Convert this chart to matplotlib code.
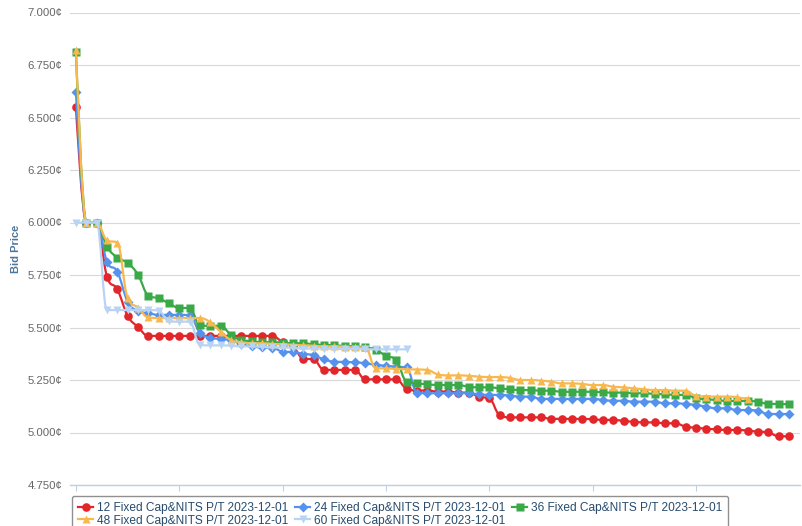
import matplotlib
matplotlib.use("Agg")
import matplotlib.pyplot as plt
from matplotlib.path import Path
from matplotlib.patches import PathPatch
from matplotlib.lines import Line2D

plt.rcParams['font.family'] = ['Liberation Sans', 'DejaVu Sans']

# ---------------- data ----------------
series_labels = [
    "12 Fixed Cap&NITS P/T 2023-12-01",
    "24 Fixed Cap&NITS P/T 2023-12-01",
    "36 Fixed Cap&NITS P/T 2023-12-01",
    "48 Fixed Cap&NITS P/T 2023-12-01",
    "60 Fixed Cap&NITS P/T 2023-12-01",
]

price_12 = [6.55, 6.00, 6.00, 5.742, 5.682, 5.556, 5.502,
            5.46, 5.46, 5.46, 5.46, 5.46, 5.46, 5.46, 5.46, 5.46, 5.46, 5.46, 5.46, 5.46,
            5.43, 5.41, 5.352, 5.348,
            5.298, 5.298, 5.298, 5.298, 5.253, 5.253, 5.253, 5.253,
            5.208, 5.200, 5.200, 5.195, 5.195, 5.190, 5.190, 5.170, 5.163,
            5.083, 5.072, 5.072, 5.072, 5.072, 5.065, 5.065, 5.065, 5.065,
            5.063, 5.060, 5.060, 5.055, 5.051, 5.048, 5.048, 5.044, 5.044,
            5.028, 5.023, 5.018, 5.015, 5.012, 5.012, 5.009, 5.004, 5.001,
            4.982, 4.982]

price_24 = [6.62, 6.00, 6.00, 5.813, 5.766, 5.623, 5.578, 5.568, 5.560, 5.560,
            5.560, 5.558, 5.474, 5.452, 5.445, 5.440, 5.420, 5.410, 5.405, 5.404,
            5.385, 5.383, 5.375, 5.368, 5.348, 5.337, 5.336, 5.334, 5.330, 5.322,
            5.318, 5.313, 5.310,
            5.190, 5.187, 5.187, 5.187, 5.187, 5.187, 5.182, 5.179, 5.179, 5.176,
            5.171, 5.171, 5.160, 5.160, 5.160, 5.160, 5.160, 5.160, 5.155, 5.151,
            5.151, 5.147, 5.147, 5.147, 5.139, 5.139, 5.136, 5.131, 5.123, 5.115,
            5.115, 5.107, 5.107, 5.104, 5.088, 5.088, 5.088]

price_36 = [6.81, 6.00, 6.00, 5.885, 5.833, 5.807, 5.752, 5.652, 5.639, 5.615,
            5.593, 5.593, 5.510, 5.508, 5.508, 5.465, 5.440, 5.435, 5.430, 5.430,
            5.428, 5.425, 5.425, 5.420, 5.417, 5.415, 5.412, 5.410, 5.405, 5.395,
            5.365, 5.345,
            5.242, 5.234, 5.230, 5.226, 5.226, 5.226, 5.218, 5.215, 5.215, 5.210,
            5.206, 5.202, 5.202, 5.199, 5.199, 5.194, 5.194, 5.194, 5.194, 5.191,
            5.190, 5.190, 5.187, 5.187, 5.183, 5.182, 5.179, 5.179, 5.163, 5.158,
            5.155, 5.150, 5.150, 5.150, 5.147, 5.136, 5.136, 5.134]

price_48 = [6.82, 6.00, 6.00, 5.915, 5.904, 5.640, 5.595, 5.548, 5.545, 5.545,
            5.545, 5.545, 5.545, 5.525, 5.480, 5.440, 5.430, 5.425, 5.425, 5.422,
            5.420, 5.418, 5.415, 5.413, 5.410, 5.410, 5.408, 5.405, 5.405, 5.307,
            5.305, 5.303,
            5.301, 5.300, 5.298, 5.277, 5.272, 5.272, 5.270, 5.266, 5.264, 5.264,
            5.260, 5.250, 5.250, 5.247, 5.242, 5.234, 5.234, 5.231, 5.226, 5.226,
            5.218, 5.215, 5.210, 5.206, 5.202, 5.202, 5.199, 5.199, 5.174, 5.171,
            5.171, 5.171, 5.168, 5.158]

price_60 = [6.00, 6.00, 6.00, 5.583, 5.583, 5.583, 5.583, 5.583, 5.580, 5.530,
            5.528, 5.528, 5.417, 5.415, 5.415, 5.413, 5.410, 5.410, 5.408, 5.405,
            5.405, 5.403, 5.400, 5.400, 5.400, 5.398, 5.398, 5.398, 5.397, 5.396,
            5.396, 5.396, 5.396]

y_ticks = [4.75, 5.00, 5.25, 5.50, 5.75, 6.00, 6.25, 6.50, 6.75, 7.00]
x_tick_positions = [0, 10, 20, 30, 40, 50, 60]

colors = ['#e3262a', '#5492ee', '#3aa947', '#f8b84e', '#b9d3f4']
markers = ['o', 'D', 's', '^', 'v']
marker_sizes = [6.2, 4.6, 5.8, 6.2, 6.2]
all_series = [price_12, price_24, price_36, price_48, price_60]


def spline_path(xs, ys, smoothing=1.5):
    n = len(xs)
    den = smoothing + 1
    lefts = [None] * n
    rights = [None] * n
    for i in range(n):
        x, y = xs[i], ys[i]
        if 0 < i < n - 1:
            lx, ly = xs[i - 1], ys[i - 1]
            nx, ny = xs[i + 1], ys[i + 1]
            lcx = (smoothing * x + lx) / den
            lcy = (smoothing * y + ly) / den
            rcx = (smoothing * x + nx) / den
            rcy = (smoothing * y + ny) / den
            corr = 0.0
            if rcx != lcx:
                corr = (rcy - lcy) * (rcx - x) / (rcx - lcx) + y - rcy
            lcy += corr
            rcy += corr
            if lcy > ly and lcy > y:
                lcy = max(ly, y)
                rcy = 2 * y - lcy
            elif lcy < ly and lcy < y:
                lcy = min(ly, y)
                rcy = 2 * y - lcy
            if rcy > ny and rcy > y:
                rcy = max(ny, y)
                lcy = 2 * y - rcy
            elif rcy < ny and rcy < y:
                rcy = min(ny, y)
                lcy = 2 * y - rcy
            lefts[i] = (lcx, lcy)
            rights[i] = (rcx, rcy)
        else:
            lefts[i] = (x, y)
            rights[i] = (x, y)
    verts = [(xs[0], ys[0])]
    codes = [Path.MOVETO]
    for i in range(1, n):
        verts += [rights[i - 1], lefts[i], (xs[i], ys[i])]
        codes += [Path.CURVE4] * 3
    return Path(verts, codes)


W, H = 803, 526
fig = plt.figure(figsize=(W / 100, H / 100), dpi=100)
left, right, top, bottom = 70, 800, 12.5, 485
ax = fig.add_axes([left / W, 1 - bottom / H, (right - left) / W, (bottom - top) / H])

ax.set_ylim(4.75, 7.0)
ax.set_xlim(-0.58, 70.08)

for k, vals in enumerate(all_series):
    xs = list(range(len(vals)))
    p = spline_path(xs, vals)
    patch = PathPatch(p, facecolor='none', edgecolor=colors[k], lw=1.6,
                      capstyle='round', joinstyle='round', zorder=3 + 2 * k)
    ax.add_patch(patch)
    ax.plot(xs, vals, linestyle='none', marker=markers[k], ms=marker_sizes[k],
            color=colors[k], mec='none', zorder=4 + 2 * k, clip_on=False)

# axes styling
for s in ['top', 'right', 'left']:
    ax.spines[s].set_visible(False)
ax.spines['bottom'].set_color('#c0d0e0')
ax.spines['bottom'].set_linewidth(1.0)
ax.set_yticks(y_ticks)
ax.set_yticklabels(['{:.3f}\u00a2'.format(v) for v in y_ticks])
ax.tick_params(axis='y', length=0, pad=5.5, labelsize=8.2, labelcolor='#666666')
ax.set_xticks(x_tick_positions)
ax.set_xticklabels([''] * len(x_tick_positions))
ax.tick_params(axis='x', direction='out', length=4, width=0.8, color='#c0d0e0')
ax.yaxis.grid(True, color='#d8d8d8', lw=0.8)
ax.set_axisbelow(True)

fig.text(16 / W, 1 - 249 / H, 'Bid Price', rotation=90, ha='center', va='center',
         fontsize=8, fontweight='bold', color='#4d759e')

# legend (row-major order: 12, 24, 36 / 48, 60)
handles = [Line2D([], [], color=colors[k], marker=markers[k], ms=marker_sizes[k],
                  lw=1.6, mec='none') for k in range(5)]
order = [0, 3, 1, 4, 2]
leg = fig.legend([handles[i] for i in order], [series_labels[i] for i in order],
                 ncol=3, loc='upper left', bbox_to_anchor=(72 / W, 1 - 496 / H),
                 bbox_transform=fig.transFigure, borderaxespad=0,
                 fontsize=8.6, handlelength=1.3, handletextpad=0.3,
                 columnspacing=0.55, labelspacing=0.05, borderpad=0.5,
                 frameon=True, fancybox=True, framealpha=1)
leg.get_frame().set_edgecolor('#909090')
leg.get_frame().set_linewidth(1.0)
for t in leg.get_texts():
    t.set_color('#274b6d')

fig.savefig('out.png', dpi=100)
